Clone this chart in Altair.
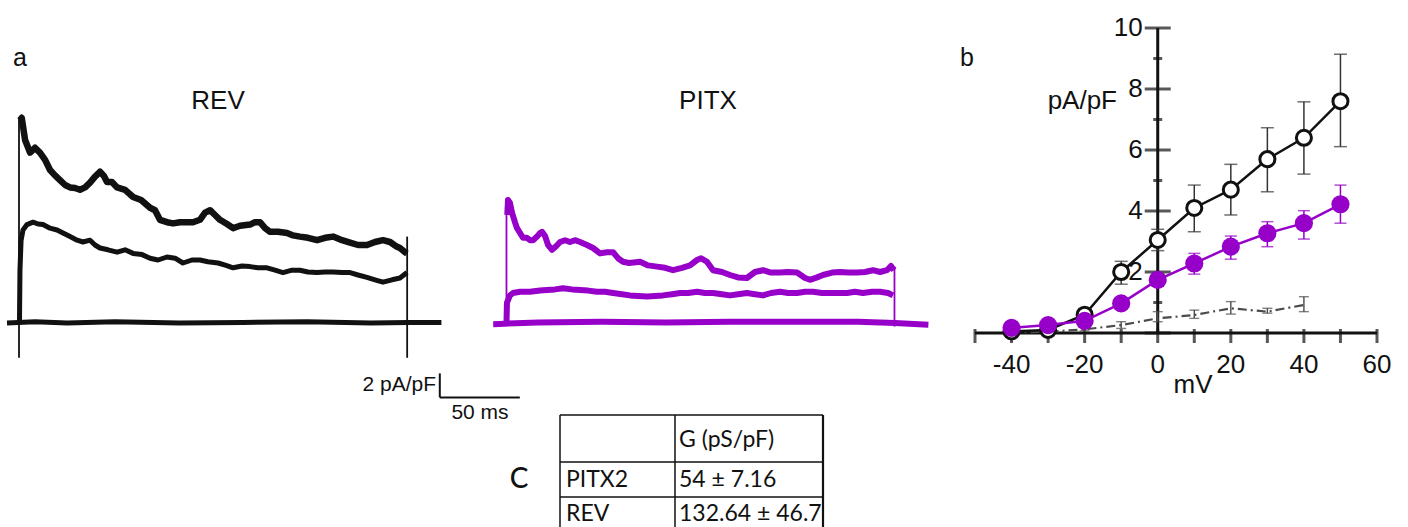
import altair as alt
import pandas as pd

# ---------------- Panel a: current traces (t in ms, I in pA/pF) ----------------
REV_TOP = [(0.6, 16.9), (1.7, 17.1), (3.8, 15.25), (6.9, 14.2), (10, 14.6), (13.1, 14.2), (16.3, 13.6),
           (19.4, 12.75), (22.5, 12.3), (25.6, 11.9), (28.8, 11.5), (31.9, 11.3), (35, 11.25), (38.1, 11.1),
           (41.3, 11.3), (44.4, 11.7), (47.5, 12.2), (50.6, 12.6), (53.1, 12.25), (55, 11.75), (58.1, 11.75),
           (61.3, 11.3), (66.3, 11.1), (71.3, 10.5), (76.3, 10.25), (81.9, 9.6), (85, 9.4), (88.1, 8.6),
           (92.5, 8.4), (96.3, 8.3), (100.6, 8.4), (105, 8.4), (108.8, 8.4), (113.1, 8.6), (116.3, 9.2),
           (119.4, 9.4), (122.5, 9.0), (125.6, 8.6), (130, 8.25), (133.8, 7.9), (138.1, 8.1), (144.4, 8.2),
           (147.5, 8.4), (150.6, 8.4), (153.8, 7.9), (156.9, 7.6), (161.9, 7.6), (167.5, 7.5), (171.3, 7.3),
           (175.6, 7.2), (180.6, 7.1), (186.3, 6.9), (191.3, 7.1), (196.3, 7.2), (201.9, 6.9), (206.9, 6.7),
           (211.9, 6.5), (217.5, 6.5), (222.5, 6.75), (227.5, 6.9), (231.9, 6.75), (235.6, 6.4), (238.1, 6.25),
           (241.3, 5.9), (242.5, 5.8)]
REV_MID = [(0.3, 0.0), (0.6, 4.4), (1.3, 6.9), (2.5, 7.75), (5, 8.2), (8.8, 8.4), (11.9, 8.25), (15, 8.2),
           (19.4, 7.9), (23.8, 7.75), (27.5, 7.5), (31.9, 7.2), (36.3, 6.9), (40, 6.75), (44.4, 6.9),
           (47.5, 6.5), (50.6, 6.25), (55.6, 6.1), (61.3, 5.9), (66.3, 6.1), (71.3, 5.8), (76.9, 5.7),
           (81.9, 5.4), (86.9, 5.25), (92.5, 5.5), (97.5, 5.4), (102.5, 5.0), (108.1, 5.25), (113.1, 5.25),
           (118.1, 5.1), (124.4, 5.0), (129.4, 4.8), (133.8, 4.6), (139.4, 4.75), (144.4, 4.7), (149.4, 4.6),
           (155, 4.6), (160, 4.4), (165, 4.2), (170.6, 4.4), (175.6, 4.4), (180.6, 4.25), (186.3, 4.2),
           (191.3, 4.25), (196.3, 4.25), (201.9, 4.2), (206.9, 4.2), (211.9, 4.0), (217.5, 3.8), (222.5, 3.6),
           (227.5, 3.4), (233.1, 3.6), (238.1, 3.75), (242.5, 4.2)]
REV_BASE = [(-7.5, 0.0), (10, 0.1), (30, 0.0), (60, 0.1), (100, 0.0), (140, 0.05), (180, 0.1),
            (220, 0.0), (243, 0.05), (264, 0.05)]
REV_TRANSIENTS = [(0.0, -2.9, 17.1), (242.6, -2.9, 7.2)]  # (t, low, high)

PITX_TOP = [(0.8, 9.0), (1.25, 10.25), (2.5, 10.0), (3.75, 9.2), (5.6, 8.4), (6.9, 7.9), (8.8, 7.5),
            (10.6, 7.1), (13.1, 7.1), (15, 6.9), (16.9, 6.9), (19.4, 7.2), (21.3, 7.5), (22.5, 7.6),
            (24.4, 7.25), (26.3, 6.5), (28.8, 6.1), (31.3, 6.4), (33.8, 6.75), (36.9, 6.9), (40, 6.75),
            (43.1, 6.9), (46.3, 6.75), (50.6, 6.5), (54.4, 6.25), (58.8, 5.8), (63.1, 5.9), (66.9, 5.9),
            (70, 5.4), (73.1, 5.1), (76.9, 5.0), (83.8, 5.1), (88.8, 4.8), (94.4, 4.7), (99.4, 4.6),
            (104.4, 4.4), (110, 4.6), (115, 4.8), (119.4, 5.25), (121.9, 5.4), (125.6, 5.1), (129.4, 4.4),
            (135, 4.25), (140, 4.0), (145, 3.8), (150.6, 3.75), (155.6, 4.25), (160.6, 4.4), (165.6, 4.2),
            (171.3, 4.2), (176.3, 4.25), (181.9, 4.2), (186.9, 3.75), (190, 3.6), (194.4, 3.8), (198.1, 4.0),
            (203.8, 4.2), (208.8, 4.25), (213.8, 4.2), (219.4, 4.2), (224.4, 4.25), (229.4, 4.4),
            (233.8, 4.25), (238.1, 4.4), (240.6, 4.75), (242.5, 4.4)]
PITX_MID = [(0.3, 0.0), (0.6, 1.7), (2.5, 2.3), (4.4, 2.5), (8.8, 2.6), (15, 2.6), (21.3, 2.7), (25.6, 2.75),
            (30.6, 2.8), (35.6, 2.9), (41.3, 2.8), (46.3, 2.75), (51.3, 2.7), (56.9, 2.6), (61.9, 2.6),
            (66.9, 2.5), (72.5, 2.4), (77.5, 2.3), (82.5, 2.25), (88.1, 2.2), (93.1, 2.25), (98.1, 2.3),
            (103.8, 2.4), (108.8, 2.5), (113.8, 2.5), (119.4, 2.6), (124.4, 2.5), (129.4, 2.5), (135, 2.4),
            (140, 2.3), (145, 2.4), (150.6, 2.5), (155.6, 2.4), (160.6, 2.3), (165.6, 2.5), (171.3, 2.6),
            (176.3, 2.5), (181.9, 2.5), (186.9, 2.6), (191.9, 2.6), (197.5, 2.5), (202.5, 2.5), (207.5, 2.5),
            (213.1, 2.5), (218.1, 2.6), (223.1, 2.5), (228.8, 2.6), (233.8, 2.6), (238.8, 2.5), (241.9, 2.3)]
PITX_BASE = [(-8, -0.1), (20, 0.05), (60, 0.1), (100, 0.05), (140, 0.1), (180, 0.1), (220, 0.1),
             (243, 0.0), (264, -0.15)]
PITX_TRANSIENTS = [(0.3, 0.0, 10.3), (242.8, -0.3, 4.7)]

SCALEBAR_ORIGIN = (263, -6.2)   # ms, pA/pF
SCALEBAR_LEN = (50, 2)          # 50 ms, 2 pA/pF

# ---------------- Panel b: I-V relationship ----------------
IV_MV = [-40, -30, -20, -10, 0, 10, 20, 30, 40, 50]
REV_IV = [0.05, 0.1, 0.6, 2.0, 3.05, 4.1, 4.7, 5.7, 6.4, 7.6]
REV_LO = [0.0, 0.05, 0.45, 1.6, 2.7, 3.32, 3.87, 4.63, 5.21, 6.11]
REV_HI = [0.1, 0.15, 0.75, 2.35, 3.4, 4.85, 5.53, 6.73, 7.58, 9.14]
PITX_IV = [0.17, 0.26, 0.4, 0.97, 1.74, 2.28, 2.83, 3.27, 3.6, 4.22]
PITX_LO = [0.12, 0.2, 0.33, 0.85, 1.55, 1.93, 2.42, 2.83, 3.08, 3.6]
PITX_HI = [0.22, 0.32, 0.47, 1.1, 1.95, 2.61, 3.18, 3.65, 4.01, 4.85]
CTRL_MV = [-40, -30, -20, -10, 0, 10, 20, 30, 40]
CTRL_IV = [0.02, 0.04, 0.12, 0.26, 0.48, 0.59, 0.81, 0.70, 0.92]
CTRL_LO = [0.0, 0.02, 0.07, 0.15, 0.37, 0.48, 0.62, 0.65, 0.70]
CTRL_HI = [0.04, 0.06, 0.17, 0.37, 0.70, 0.75, 1.03, 0.81, 1.19]

X_AXIS_LIMITS = [-50, 60]
Y_AXIS_LIMITS = [0, 10]
X_TICKS = [-50, -40, -30, -20, -10, 0, 10, 20, 30, 40, 50, 60]
X_LABELS = [-40, -20, 0, 20, 40, 60]
Y_MAJOR = [0, 2, 4, 6, 8, 10]
Y_MINOR = [1, 3, 5, 7, 9]
Y_LABELS = [2, 4, 6, 8, 10]

# ---------------- Panel c: table ----------------
TABLE_HEADER = "G (pS/pF)"
TABLE_ROWS = ["PITX2", "REV"]
TABLE_G = ["54 \u00b1 7.16", "132.64 \u00b1 46.7"]

FONT = "Liberation Sans"
TFONT = "Lato"
BLACK = "#111111"
PURPLE = "#9600C8"
GRAY = "#4a4a4a"


def trace_df(points):
    return pd.DataFrame({"t": [p[0] for p in points], "I": [p[1] for p in points],
                         "i": list(range(len(points)))})


def trace_panel(top, mid, base, transients, color, x_range, widths, extra=None):
    xs = alt.Scale(domain=[0, 250], range=x_range, nice=False, zero=False)
    ys = alt.Scale(domain=[0, 10], range=[323, 203], nice=False, zero=False)
    layers = []
    for pts, w in zip((base, mid, top), widths):
        layers.append(
            alt.Chart(trace_df(pts)).mark_line(color=color, strokeWidth=w, strokeJoin="round")
            .encode(x=alt.X("t:Q", scale=xs, axis=None), y=alt.Y("I:Q", scale=ys, axis=None),
                    order="i:Q")
        )
    tr = pd.DataFrame({"t": [a[0] for a in transients], "lo": [a[1] for a in transients],
                       "hi": [a[2] for a in transients]})
    layers.append(
        alt.Chart(tr).mark_rule(color=color, strokeWidth=1.8)
        .encode(x=alt.X("t:Q", scale=xs, axis=None), y=alt.Y("lo:Q", scale=ys, axis=None), y2="hi:Q")
    )
    if extra:
        sb = pd.DataFrame({"t0": [SCALEBAR_ORIGIN[0]], "t1": [SCALEBAR_ORIGIN[0] + SCALEBAR_LEN[0]],
                           "i0": [SCALEBAR_ORIGIN[1]], "i1": [SCALEBAR_ORIGIN[1] + SCALEBAR_LEN[1]]})
        layers.append(alt.Chart(sb).mark_rule(color=BLACK, strokeWidth=2).encode(
            x=alt.X("t0:Q", scale=xs, axis=None), x2="t1:Q", y=alt.Y("i0:Q", scale=ys, axis=None)))
        layers.append(alt.Chart(sb).mark_rule(color=BLACK, strokeWidth=2).encode(
            x=alt.X("t0:Q", scale=xs, axis=None), y=alt.Y("i0:Q", scale=ys, axis=None), y2="i1:Q"))
    return alt.layer(*layers)


rev_panel = trace_panel(REV_TOP, REV_MID, REV_BASE, REV_TRANSIENTS, BLACK, [19, 419], (5, 5, 6.5), extra=True)
pitx_panel = trace_panel(PITX_TOP, PITX_MID, PITX_BASE, PITX_TRANSIENTS, PURPLE, [506, 906], (6, 6, 6))

# ---------------- Panel b ----------------
bx = alt.Scale(domain=X_AXIS_LIMITS, range=[975, 1377], nice=False, zero=False)
by = alt.Scale(domain=Y_AXIS_LIMITS, range=[333, 28], nice=False, zero=False)


def X(f):
    return alt.X(f, scale=bx, axis=None)


def Y(f):
    return alt.Y(f, scale=by, axis=None)


axes_df = pd.DataFrame({"x0": [X_AXIS_LIMITS[0]], "x1": [X_AXIS_LIMITS[1]],
                        "y0": [Y_AXIS_LIMITS[0]], "y1": [Y_AXIS_LIMITS[1]], "z": [0]})
x_axis_line = alt.Chart(axes_df).mark_rule(color=BLACK, strokeWidth=3).encode(
    x=X("x0:Q"), x2="x1:Q", y=Y("z:Q"))
y_axis_line = alt.Chart(axes_df).mark_rule(color=BLACK, strokeWidth=3).encode(
    x=X("z:Q"), y=Y("y0:Q"), y2="y1:Q")
xt = pd.DataFrame({"v": X_TICKS, "z": [0] * len(X_TICKS)})
x_ticks = alt.Chart(xt).mark_tick(orient="vertical", size=14, thickness=3, color=BLACK, yOffset=3).encode(
    x=X("v:Q"), y=Y("z:Q"))
ytM = pd.DataFrame({"v": Y_MAJOR, "z": [0] * len(Y_MAJOR)})
y_major = alt.Chart(ytM).mark_tick(orient="horizontal", size=26, thickness=3, color=BLACK).encode(
    x=X("z:Q"), y=Y("v:Q"))
ytm = pd.DataFrame({"v": Y_MINOR, "z": [0] * len(Y_MINOR)})
y_minor = alt.Chart(ytm).mark_tick(orient="horizontal", size=9, thickness=3, color=BLACK).encode(
    x=X("z:Q"), y=Y("v:Q"))
xl = pd.DataFrame({"v": X_LABELS, "z": [0] * len(X_LABELS), "s": [str(v) for v in X_LABELS]})
x_labels = alt.Chart(xl).mark_text(font=FONT, fontSize=26, dy=32, baseline="middle", color=BLACK).encode(
    x=X("v:Q"), y=Y("z:Q"), text="s:N")
yl = pd.DataFrame({"v": Y_LABELS, "z": [0] * len(Y_LABELS), "s": [str(v) for v in Y_LABELS]})
y_labels = alt.Chart(yl).mark_text(font=FONT, fontSize=26, dx=-15, align="right", baseline="middle",
                                   color=BLACK).encode(x=X("z:Q"), y=Y("v:Q"), text="s:N")


def series_layers(mv, val, lo, hi, color, cap, line_kw, point):
    df = pd.DataFrame({"mv": mv, "v": val, "lo": lo, "hi": hi})
    out = [
        alt.Chart(df).mark_rule(color=color, strokeWidth=cap[1]).encode(x=X("mv:Q"), y=Y("lo:Q"), y2="hi:Q"),
        alt.Chart(df).mark_tick(orient="horizontal", size=cap[0], thickness=cap[1], color=color).encode(
            x=X("mv:Q"), y=Y("lo:Q")),
        alt.Chart(df).mark_tick(orient="horizontal", size=cap[0], thickness=cap[1], color=color).encode(
            x=X("mv:Q"), y=Y("hi:Q")),
        alt.Chart(df).mark_line(**line_kw).encode(x=X("mv:Q"), y=Y("v:Q")),
    ]
    if point:
        out.append(alt.Chart(df).mark_circle(**point).encode(x=X("mv:Q"), y=Y("v:Q")))
    return out


ctrl = series_layers(CTRL_MV, CTRL_IV, CTRL_LO, CTRL_HI, GRAY, (10, 1.4),
                     dict(color=GRAY, strokeWidth=2.2, strokeDash=[9, 4, 2, 4]), None)
rev = series_layers(IV_MV, REV_IV, REV_LO, REV_HI, "#333333", (13, 1.5),
                    dict(color=BLACK, strokeWidth=2.5),
                    dict(size=227, fill="white", stroke=BLACK, strokeWidth=3, opacity=1))
pitx = series_layers(IV_MV, PITX_IV, PITX_LO, PITX_HI, PURPLE, (12, 1.5),
                     dict(color=PURPLE, strokeWidth=2.5),
                     dict(size=330, color=PURPLE, opacity=1))

panel_b = alt.layer(x_axis_line, y_axis_line, x_ticks, y_major, y_minor, x_labels, y_labels,
                    *ctrl, *rev, *pitx)


# ---------------- annotations ----------------
def label(text, x, y, size, font=FONT, align="center", baseline="middle", weight="normal"):
    return alt.Chart(pd.DataFrame({"s": [text]})).mark_text(
        font=font, fontSize=size, align=align, baseline=baseline, color=BLACK, fontWeight=weight
    ).encode(x=alt.value(x), y=alt.value(y), text="s:N")


def hline(x1, x2, y, w=1.5):
    return alt.Chart(pd.DataFrame({"k": [0]})).mark_rule(color=BLACK, strokeWidth=w).encode(
        x=alt.value(x1), x2=alt.value(x2), y=alt.value(y))


def vline(x, y1, y2, w=1.5):
    return alt.Chart(pd.DataFrame({"k": [0]})).mark_rule(color=BLACK, strokeWidth=w).encode(
        x=alt.value(x), y=alt.value(y1), y2=alt.value(y2))


annotations = [
    label("a", 20, 58, 25),
    label("REV", 218, 101, 26),
    label("PITX", 708, 101, 26),
    label("b", 967, 58, 25),
    label("2 pA/pF", 436, 385, 21, align="right"),
    label("50 ms", 480, 413, 21),
    label("pA/pF", 1117, 101, 26, align="right"),
    label("mV", 1193, 385, 26),
    label("C", 519, 480, 28, font=TFONT, weight=500),
]

# table grid and text
table = [
    hline(560, 823, 415), hline(560, 823, 462), hline(560, 823, 497),
    vline(560, 415, 527), vline(675, 415, 527), vline(823, 415, 527, 2.2),
    label(TABLE_HEADER, 679, 440, 23, font=TFONT, align="left"),
    label(TABLE_ROWS[0], 566, 480, 23, font=TFONT, align="left"),
    label(TABLE_G[0], 679, 480, 23, font=TFONT, align="left"),
    label(TABLE_ROWS[1], 566, 514, 23, font=TFONT, align="left"),
    label(TABLE_G[1], 679, 514, 23, font=TFONT, align="left"),
]

chart = alt.layer(rev_panel, pitx_panel, panel_b, *annotations, *table).resolve_scale(
    x="independent", y="independent"
).properties(
    width=1408, height=527, padding=0, autosize=alt.AutoSizeParams(type="none"), background="white"
).configure_view(stroke=None)

chart.save("out.html", embed_options={"renderer": "svg", "actions": False})
